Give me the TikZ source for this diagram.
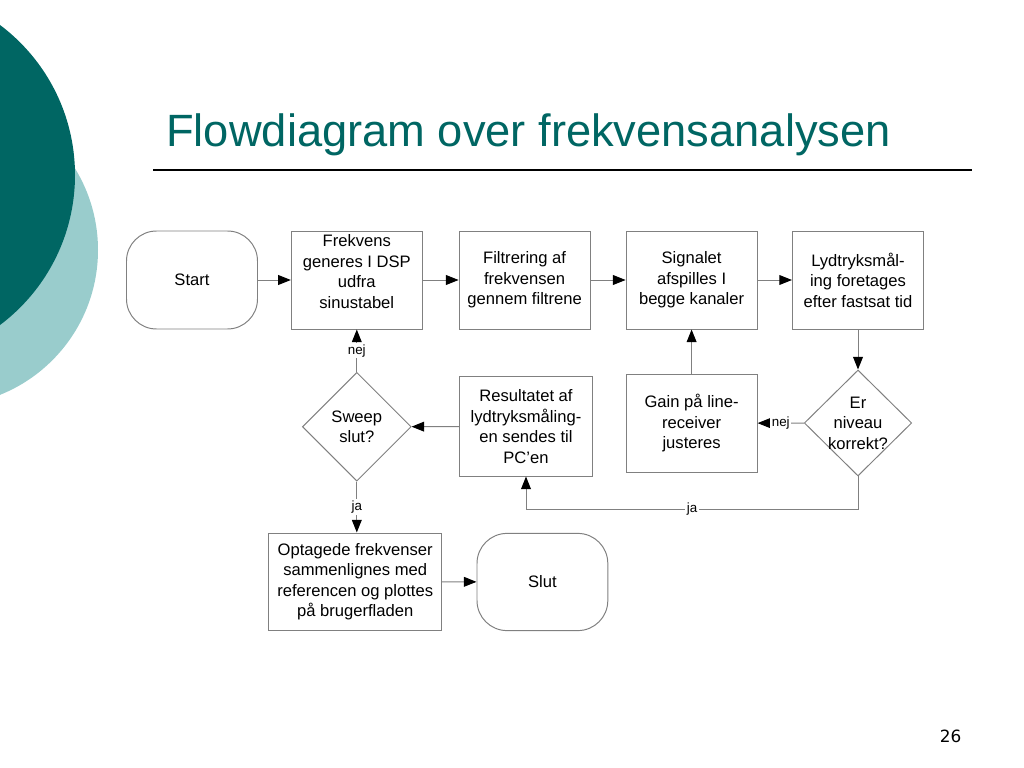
\documentclass[tikz,border=0pt]{standalone}
\usepackage{fontspec}
\setmainfont{Liberation Sans}
\newfontfamily\pagefont{DejaVu Sans}
\usetikzlibrary{shapes.geometric,arrows.meta}
\definecolor{slideteal}{RGB}{0,102,99}
\definecolor{slidelight}{RGB}{153,204,204}
\definecolor{flowgray}{RGB}{128,128,128}
\tikzset{
  box/.style={draw=flowgray,line width=0.7pt,rectangle,minimum width=3.275cm,minimum height=2.45cm,inner sep=0pt,align=center,font=\fontsize{11.8}{14.6}\selectfont},
  term/.style={box,rounded corners=0.75cm},
  decision/.style={draw=flowgray,line width=0.7pt,diamond,minimum width=2.72cm,minimum height=2.72cm,inner sep=0pt},
  txt/.style={align=center,inner sep=0pt,font=\fontsize{11.8}{14.6}\selectfont},
  flow/.style={draw=flowgray,line width=0.7pt,-{Triangle[color=black,length=9pt,width=7pt]}},
  lbl/.style={fill=white,inner sep=1pt,font=\fontsize{9.5}{10}\selectfont}
}
\begin{document}
\begin{tikzpicture}
\useasboundingbox (0,0) rectangle (25.6,-19.2);
\fill[slidelight] (-1.45,-6.25) circle (3.9cm);
\fill[slideteal] (-2.8125,-4.375) circle (4.6875cm);
\node[anchor=base west,inner sep=0pt,text=slideteal,font=\fontsize{32.2}{36}\selectfont] (TITLE) at (4.15,-3.6675) {Flowdiagram over frekvensanalysen};
\draw[line width=1pt] (3.83,-4.25) -- (24.3,-4.25);
% top row
\node[term] (START) at (4.8,-7.0) {Start};
\node[box] (FRK) at (8.92,-7.0) {};
\node[txt] (FRKtxt) at (8.92,-6.79) {Frekvens\\generes I DSP\\udfra\\sinustabel};
\node[box] (FIL) at (13.115,-7.0) {Filtrering af\\frekvensen\\gennem filtrene};
\node[box] (SIG) at (17.29,-7.0) {Signalet\\afspilles I\\begge kanaler};
\node[box] (LYD) at (21.45,-7.0) {Lydtryksmål-\\ing foretages\\efter fastsat tid};
% middle row
\node[decision] (SWP) at (8.92,-10.67) {};
\node[txt] (SWPtxt) at (SWP) {Sweep\\slut?};
\node[box,minimum width=3.335cm,minimum height=2.48cm] (RES) at (13.15,-10.66) {Resultatet af\\lydtryksmåling-\\en sendes til\\PC’en};
\node[box] (GAIN) at (17.29,-10.58) {Gain på line-\\receiver\\justeres};
\node[decision,minimum width=2.685cm,minimum height=2.65cm] (ER) at (21.45,-10.575) {};
\node[txt] (ERtxt) at (ER) {Er\\niveau\\korrekt?};
% bottom row
\node[box,minimum width=4.32cm,minimum height=2.43cm] (OPT) at (8.88,-14.54) {Optagede frekvenser\\sammenlignes med\\referencen og plottes\\på brugerfladen};
\node[term,minimum width=3.27cm,minimum height=2.43cm] (SLUT) at (13.56,-14.55) {Slut};
% connectors
\draw[flow] (START) -- (FRK);
\draw[flow] (FRK) -- (FIL);
\draw[flow] (FIL) -- (SIG);
\draw[flow] (SIG) -- (LYD);
\draw[flow] (LYD) -- (ER);
\draw[flow] (ER) -- node[lbl,midway] {nej} (GAIN);
\draw[flow] (GAIN) -- (SIG);
\draw[flow] (ER.south) -- ++(0,-0.825) coordinate (ERja) -| node[lbl,pos=0.25] {ja} (RES.south);
\draw[flow] (RES) -- (SWP);
\draw[flow] (SWP) -- node[lbl,midway] {nej} (FRK);
\draw[flow] (SWP.south) -- node[lbl,midway] {ja} (SWP.south |- OPT.north);
\draw[flow] (OPT) -- (SLUT);
\node[anchor=base east,inner sep=0pt,font=\pagefont\fontsize{12}{14}\selectfont] (PAGE) at (24.04,-18.55) {26};
\end{tikzpicture}
\end{document}
